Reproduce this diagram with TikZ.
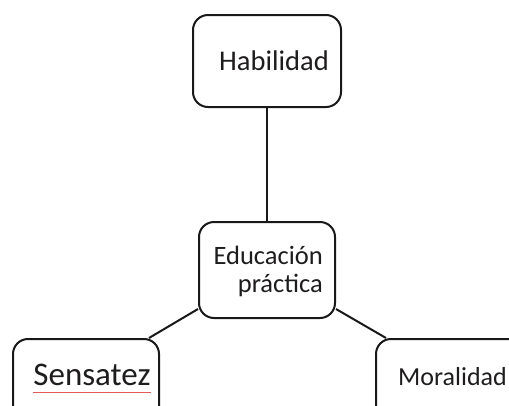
\documentclass[tikz,border=0pt]{standalone}
\usepackage{fontspec}
\setmainfont{Carlito}
\usepackage{tikz}
\usetikzlibrary{positioning}
\usepackage{xcolor}
\definecolor{edline}{RGB}{25,25,25}
\definecolor{edtext}{RGB}{30,28,28}
\definecolor{edspell}{RGB}{230,90,90}
\tikzstyle{edbox} = [rectangle, rounded corners=15pt, minimum width=146pt, minimum height=92pt, draw=edline, line width=2pt, fill=white]
\tikzstyle{edlink} = [line width=2pt, color=edline]
\tikzstyle{edlabel} = [inner sep=0pt, text=edtext]

\begin{document}
\begin{tikzpicture}[x=1pt, y=-1pt]
\useasboundingbox (0,0) rectangle (509,405);
\clip (0,0) rectangle (509,405);
% Boxes
\node[edbox, minimum width=148pt] (hab) at (267,61) {};
\node[edbox, minimum width=136pt, minimum height=96pt] (edu) at (267,270) {};
\node[edbox] (sen) at (86,385) {};
\node[edbox] (mor) at (449,385) {};

% Texts
\node[edlabel, font=\fontsize{28.5}{31}\selectfont, anchor=base] (habtxt) at (274,70) {Habilidad};
\node[edlabel, font=\fontsize{26.5}{28}\selectfont, align=right, anchor=east] (edutxt) at (323,271) {Educación\\práctica};
\node[edlabel, font=\fontsize{33}{36}\selectfont, anchor=base] (sentxt) at (92,385) {Sensatez};
\node[edlabel, font=\fontsize{26}{29}\selectfont, anchor=base east] (mortxt) at (507,385) {Moralidad};
\draw[edspell, line width=0.6pt] ([yshift=-7pt]sentxt.south west) -- ([yshift=-7pt]sentxt.south east);

% Connectors
\draw[edlink] (hab.south) -- (edu.north);
\draw[edlink] ([yshift=10pt]edu.south west) -- ([xshift=-11pt]sen.north east);
\draw[edlink] ([yshift=10pt]edu.south east) -- ([xshift=11pt]mor.north west);
\end{tikzpicture}
\end{document}
